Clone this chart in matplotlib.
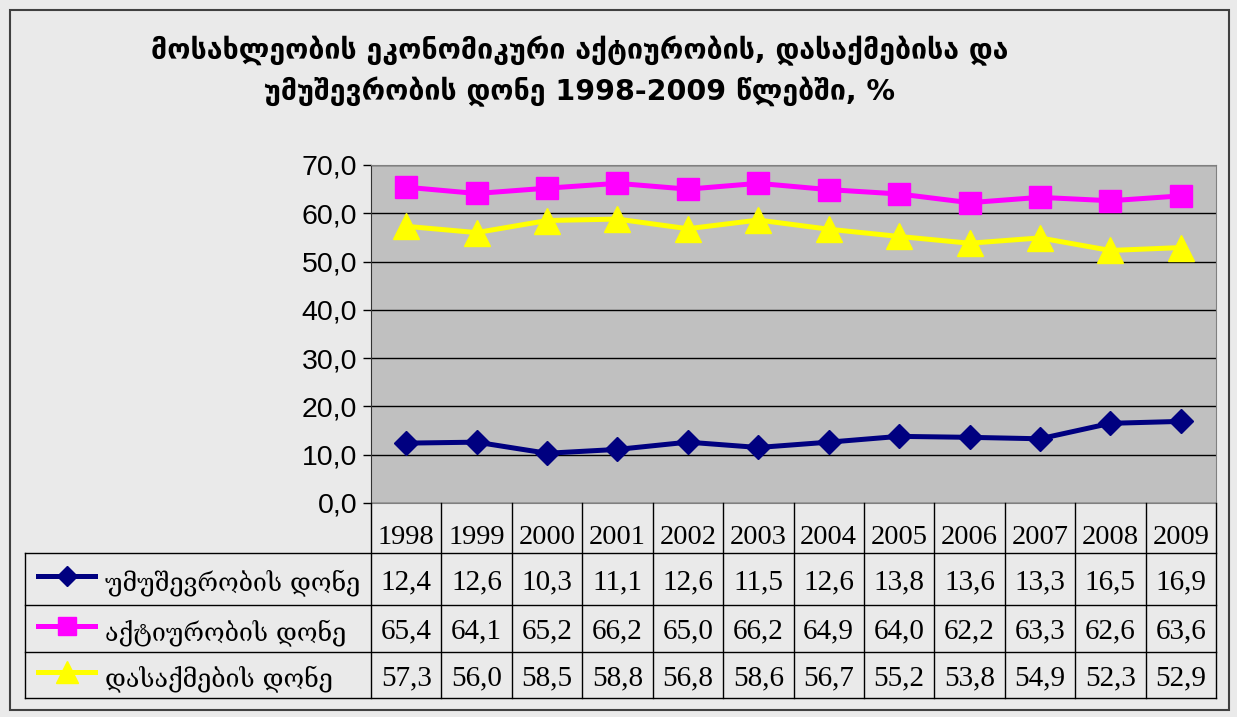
import matplotlib
matplotlib.use("Agg")
import matplotlib.pyplot as plt
from matplotlib.lines import Line2D
from matplotlib.patches import Rectangle
from matplotlib.ticker import MultipleLocator, FuncFormatter

# data
years = ["1998", "1999", "2000", "2001", "2002", "2003",
         "2004", "2005", "2006", "2007", "2008", "2009"]
unemployment = [12.4, 12.6, 10.3, 11.1, 12.6, 11.5, 12.6, 13.8, 13.6, 13.3, 16.5, 16.9]
activity = [65.4, 64.1, 65.2, 66.2, 65.0, 66.2, 64.9, 64.0, 62.2, 63.3, 62.6, 63.6]
employment = [57.3, 56.0, 58.5, 58.8, 56.8, 58.6, 56.7, 55.2, 53.8, 54.9, 52.3, 52.9]

series_names = ["უმუშევრობის დონე", "აქტიურობის დონე", "დასაქმების დონე"]
title = ("მოსახლეობის ეკონომიკური აქტიურობის, დასაქმებისა და\n"
         "უმუშევრობის დონე 1998-2009 წლებში, %")

styles = [
    dict(color="#000080", marker="D", markersize=12),
    dict(color="#FF00FF", marker="s", markersize=16),
    dict(color="#FFFF00", marker="^", markersize=19),
]

W, H = 1237, 717
BG = "#EAEAEA"

# ---------------------------------------------------------------------------
# figure + layout (pixel boxes)
# ---------------------------------------------------------------------------
fig = plt.figure(figsize=(W / 100, H / 100), dpi=100, facecolor=BG)

px_left, px_right = 371, 1216
px_top, px_bottom = 165, 503
ax = fig.add_axes([px_left / W, 1 - px_bottom / H,
                   (px_right - px_left) / W, (px_bottom - px_top) / H])
ax.set_facecolor("#C0C0C0")

x = list(range(len(years)))
for vals, st in zip([unemployment, activity, employment], styles):
    ax.plot(x, vals, color=st["color"], linewidth=3.6, marker=st["marker"],
            markersize=st["markersize"], markerfacecolor=st["color"],
            markeredgecolor=st["color"], zorder=3)

ax.set_xlim(-0.5, len(years) - 0.5)
ax.set_ylim(0, 70)
ax.yaxis.set_major_locator(MultipleLocator(10))
ax.yaxis.set_major_formatter(FuncFormatter(lambda v, _: f"{v:.1f}".replace(".", ",")))
ax.grid(axis="y", color="black", linewidth=1.0)
ax.set_axisbelow(True)
ax.set_xticks([])
ax.tick_params(axis="y", direction="out", length=6, width=1, pad=4,
               labelsize=20.5)
for lab in ax.get_yticklabels():
    lab.set_fontfamily("Liberation Sans")
for side in ["top", "right", "bottom"]:
    ax.spines[side].set_color("#808080")
ax.spines["left"].set_color("#333333")

# ---------------------------------------------------------------------------
# overlay in pixel coordinates for the data table and frame
# ---------------------------------------------------------------------------
ov = fig.add_axes([0, 0, 1, 1], facecolor="none")
ov.set_xlim(0, W)
ov.set_ylim(H, 0)
ov.axis("off")

# outer frame
ov.add_patch(Rectangle((10, 10), 1219, 700, fill=False, edgecolor="#404040",
                       linewidth=1.5))

col_w = (px_right - px_left) / len(years)
tab_left = 25
row_lines = [553, 605, 652, 698]
lc = "black"

# year header row
for i, yr in enumerate(years):
    cx = px_left + (i + 0.5) * col_w
    ov.text(cx, 537, yr, ha="center", va="center", fontsize=20.5,
            family="Liberation Serif")
for i in range(len(years) + 1):
    xx = px_left + i * col_w
    ov.plot([xx, xx], [px_bottom, row_lines[-1]], color=lc, linewidth=1)

# horizontal lines
for yy in row_lines:
    ov.plot([tab_left, px_right], [yy, yy], color=lc, linewidth=1)
ov.plot([tab_left, tab_left], [row_lines[0], row_lines[-1]], color=lc, linewidth=1)

# data rows
for r, (vals, name, st) in enumerate(zip([unemployment, activity, employment],
                                        series_names, styles)):
    cy = (row_lines[r] + row_lines[r + 1]) / 2 + 3
    for i, v in enumerate(vals):
        cx = px_left + (i + 0.5) * col_w
        ov.text(cx, cy, f"{v:.1f}".replace(".", ","), ha="center", va="center",
                fontsize=21, family="Liberation Serif")
    ov.add_line(Line2D([38, 95], [cy - 6, cy - 6], color=st["color"], linewidth=3.6))
    ov.add_line(Line2D([66.5], [cy - 6], color=st["color"], marker=st["marker"],
                       markersize=st["markersize"] * 0.85,
                       markerfacecolor=st["color"], markeredgecolor=st["color"]))
    ov.text(105, cy + 1, name, ha="left", va="center", fontsize=18,
            family=["DejaVu Serif", "DejaVu Sans"])

# title
ov.text(580, 71, title, ha="center", va="center", fontsize=20.5,
        fontweight="bold", family=["DejaVu Sans"], linespacing=1.45)

fig.savefig("out.png", dpi=100, facecolor=BG)
